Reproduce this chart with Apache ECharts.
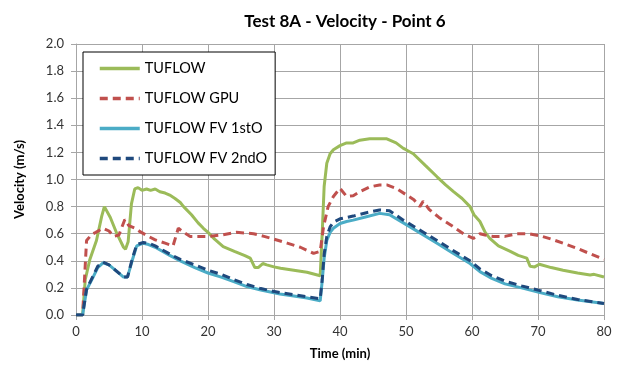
<!DOCTYPE html>
<html>
<head>
<meta charset="utf-8">
<script src="https://cdn.jsdelivr.net/npm/echarts@6/dist/echarts.min.js"></script>
<style>html,body{margin:0;padding:0;background:#fff;}#c{width:633px;height:369px;}</style>
</head>
<body>
<div id="c"></div>
<script>
const seriesNames = ['TUFLOW', 'TUFLOW GPU', 'TUFLOW FV 1stO', 'TUFLOW FV 2ndO'];
const xTicks = [0, 10, 20, 30, 40, 50, 60, 70, 80];
const yTicks = [0.0, 0.2, 0.4, 0.6, 0.8, 1.0, 1.2, 1.4, 1.6, 1.8, 2.0];

const tuflowTime = [0,1,1.4,2.1,3.1,3.9,4.3,5.2,6.2,7.2,7.5,7.9,8.4,8.9,9.4,10,10.7,11.3,12,12.7,13.5,14.2,15,15.8,16.3,17.5,18.5,19.3,20,21,22.3,24,25.5,26.4,27.1,27.6,28.3,28.9,30,31,33,35,37,37.3,37.6,38,38.5,39,40,41,42,43,44.5,46,47.1,48.5,49.6,50,51.1,53,54.7,56,57.2,58.5,59.7,60.3,61.2,62,62.7,64,65.8,67,68.3,68.8,69.5,70.2,72,73.8,76,77.9,78.5,80];
const tuflowVel = [0,0,0.26,0.41,0.55,0.73,0.80,0.72,0.60,0.50,0.485,0.54,0.82,0.93,0.94,0.92,0.93,0.92,0.93,0.91,0.90,0.885,0.86,0.83,0.80,0.74,0.68,0.64,0.61,0.56,0.505,0.47,0.44,0.42,0.35,0.35,0.38,0.37,0.355,0.345,0.33,0.315,0.29,0.6,0.95,1.12,1.19,1.22,1.25,1.27,1.27,1.29,1.30,1.30,1.30,1.27,1.23,1.22,1.19,1.10,1.02,0.96,0.91,0.86,0.80,0.74,0.69,0.61,0.565,0.51,0.47,0.44,0.42,0.36,0.355,0.375,0.35,0.33,0.31,0.295,0.30,0.28];

const gpuTime = [0,1,1.6,2.4,3,4.1,5,5.7,6.5,7.4,8,9,9.7,11,12,13.5,14.7,15.5,16.3,17.3,18.5,20,22,24.3,26.9,28.5,30,32,34,36,37,37.5,38.2,39,40,41,42,43,44.5,46,47.1,48.5,50.1,51.2,52.1,52.6,53.5,55,57.2,58.7,60.2,61.2,62,63.2,65,66.8,68.5,70.3,72,73.8,76,78,80];
const gpuVel = [0,0,0.55,0.595,0.61,0.64,0.62,0.58,0.59,0.705,0.66,0.64,0.615,0.58,0.555,0.53,0.51,0.64,0.61,0.58,0.58,0.58,0.59,0.61,0.60,0.58,0.56,0.53,0.50,0.455,0.47,0.65,0.80,0.875,0.935,0.875,0.88,0.91,0.945,0.96,0.96,0.935,0.885,0.85,0.80,0.84,0.78,0.72,0.65,0.60,0.565,0.60,0.59,0.58,0.58,0.60,0.60,0.585,0.56,0.53,0.49,0.45,0.41];

const fvTime = [0,1,1.6,2.5,3.3,4.1,5,6,7.2,7.8,8.5,9.2,10.2,11,12,14.2,15.8,18,20,22,24,25.9,28,30.9,33,35,37,37.3,37.6,38,38.5,39,40,41,42,44,46,47.5,49.6,52,54.7,57,59.7,61.2,63,65,67.5,70.3,73,76,80];
const fv1Vel = [0,0,0.185,0.27,0.35,0.385,0.37,0.33,0.28,0.28,0.40,0.51,0.53,0.52,0.50,0.44,0.40,0.35,0.31,0.28,0.245,0.21,0.185,0.155,0.14,0.125,0.105,0.25,0.42,0.55,0.61,0.64,0.675,0.69,0.70,0.725,0.75,0.74,0.68,0.61,0.53,0.46,0.38,0.32,0.27,0.23,0.20,0.165,0.135,0.11,0.085];
const fv2Vel = [0,0,0.19,0.28,0.36,0.39,0.37,0.33,0.28,0.28,0.41,0.52,0.535,0.53,0.51,0.45,0.41,0.37,0.33,0.30,0.26,0.225,0.195,0.165,0.15,0.135,0.12,0.26,0.45,0.58,0.65,0.685,0.71,0.72,0.73,0.755,0.775,0.77,0.70,0.63,0.55,0.48,0.40,0.34,0.29,0.25,0.215,0.18,0.145,0.115,0.085];

const colors = ['#9BBB59', '#C0504D', '#4BACC6', '#1F497D'];
const pair = (t, v) => t.map((x, i) => [x, v[i]]);

const chart = echarts.init(document.getElementById('c'));
const FONT = 'Lato, "Open Sans", sans-serif';
const gridCol = '#a6a6a6';
chart.setOption({
  animation: false,
  textStyle: { fontFamily: FONT },
  title: {
    text: 'Test 8A - Velocity - Point 6',
    left: 340, top: 8, textAlign: 'center',
    textStyle: { fontFamily: FONT, fontSize: 17, fontWeight: 'bold', color: '#000' }
  },
  legend: {
    orient: 'vertical', left: 83, top: 52,
    padding: [9, 8, 9, 15],
    itemWidth: 40, itemHeight: 14, itemGap: 15,
    borderColor: '#000', borderWidth: 1, backgroundColor: '#fff',
    itemStyle: { opacity: 0, borderWidth: 0 },
    lineStyle: { width: 3.5 },
    textStyle: { fontFamily: FONT, fontSize: 14.5, color: '#000' },
    data: seriesNames
  },
  grid: { left: 76, right: 29, top: 44, bottom: 54 },
  xAxis: {
    type: 'value', min: xTicks[0], max: xTicks[xTicks.length-1], interval: 10,
    name: 'Time (min)', nameLocation: 'middle', nameGap: 32,
    nameTextStyle: { fontFamily: FONT, fontSize: 13, fontWeight: 'bold', color: '#000' },
    axisLine: { lineStyle: { color: gridCol } },
    axisTick: { show: true, inside: false, length: 5, lineStyle: { color: gridCol } },
    axisLabel: { fontSize: 13, color: '#333', margin: 10 },
    splitLine: { show: true, lineStyle: { color: gridCol, width: 1 } }
  },
  yAxis: {
    type: 'value', min: yTicks[0], max: yTicks[yTicks.length-1], interval: 0.2,
    name: 'Velocity (m/s)', nameLocation: 'middle', nameGap: 50, nameRotate: 90,
    nameTextStyle: { fontFamily: FONT, fontSize: 13, fontWeight: 'bold', color: '#000' },
    axisLine: { show: true, lineStyle: { color: gridCol } },
    axisTick: { show: true, inside: false, length: 5, lineStyle: { color: gridCol } },
    axisLabel: { fontSize: 13, color: '#333', margin: 12, formatter: v => v.toFixed(1) },
    splitLine: { show: true, lineStyle: { color: gridCol, width: 1 } }
  },
  series: [
    { name: seriesNames[0], type: 'line', data: pair(tuflowTime, tuflowVel), symbol: 'none', color: colors[0], lineStyle: { width: 3, color: colors[0] } },
    { name: seriesNames[1], type: 'line', data: pair(gpuTime, gpuVel), symbol: 'none', color: colors[1], lineStyle: { width: 3, color: colors[1], type: [8, 5] } },
    { name: seriesNames[2], type: 'line', data: pair(fvTime, fv1Vel), symbol: 'none', color: colors[2], lineStyle: { width: 3, color: colors[2] } },
    { name: seriesNames[3], type: 'line', data: pair(fvTime, fv2Vel), symbol: 'none', color: colors[3], lineStyle: { width: 3, color: colors[3], type: [8, 5] } }
  ]
});
</script>
</body>
</html>
